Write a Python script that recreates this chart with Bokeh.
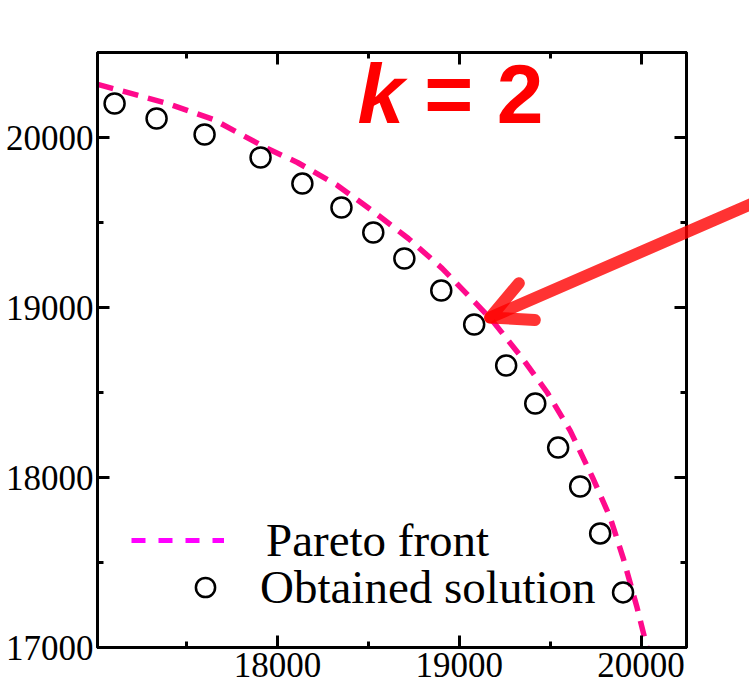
from bokeh.plotting import figure
from bokeh.models import (Range1d, LinearAxis, SingleIntervalTicker, Legend, LegendItem,
                          Arrow, OpenHead, Label, CustomJSTickFormatter, GridBox)
from bokeh.embed import file_html
from bokeh.resources import INLINE

# Pareto front (dashed curve)
front_x = [17011, 17154, 17396, 17648, 17945, 18110, 18330, 18527, 18720, 18907,
           19088, 19181, 19335, 19484, 19610, 19736, 19830, 19901, 19978, 20033]
front_y = [20312, 20271, 20200, 20106, 19935, 19853, 19718, 19565, 19406, 19229,
           19029, 18924, 18718, 18500, 18276, 17994, 17765, 17529, 17235, 17000]

# Obtained solutions (open circles)
sol_x = [17104, 17335, 17599, 17907, 18137, 18352, 18527, 18698, 18901, 19082,
         19258, 19418, 19544, 19665, 19775, 19901]
sol_y = [20200, 20112, 20018, 19882, 19729, 19588, 19441, 19288, 19100, 18900,
         18659, 18435, 18176, 17947, 17671, 17324]

# arrow annotation (points at the front), data coordinates
arrow_x = [20630, 19170]
arrow_y = [19620, 18941]

# title annotation anchors (data coordinates)
title_k = (18440, 20258)
title_rest = (18808, 20258)

SERIF = "Liberation Serif"
W, H = 749, 690
BL, BT, BR, BB = 97, 52, 63, 43
X0, X1 = 17010, 20250
Y0, Y1 = 17000, 20500

p = figure(width=W, height=H, x_range=Range1d(X0, X1), y_range=Range1d(Y0, Y1),
           output_backend="svg", toolbar_location=None, frame_align=False,
           min_border_left=BL, min_border_top=BT, min_border_right=BR, min_border_bottom=BB)
p.grid.visible = False
p.outline_line_color = "black"
p.outline_line_width = 3
p.background_fill_color = None
p.border_fill_color = None

p.add_layout(LinearAxis(), "above")
p.add_layout(LinearAxis(), "right")

for ax in p.axis:
    ax.ticker = SingleIntervalTicker(interval=1000, num_minor_ticks=2)
    ax.axis_line_width = 3
    ax.axis_line_color = "black"
    ax.major_tick_line_width = 3
    ax.minor_tick_line_width = 3
    ax.major_tick_in = 12
    ax.major_tick_out = 0
    ax.minor_tick_in = 6
    ax.minor_tick_out = 0
    ax.major_label_text_font = SERIF
    ax.major_label_text_font_size = "35px"
    ax.major_label_text_color = "black"

for ax in p.above + p.right:
    ax.formatter = CustomJSTickFormatter(code="return ''")
    ax.major_label_text_font_size = "1px"
    ax.major_label_standoff = 0

p.xaxis[0].major_label_standoff = 3
p.yaxis[0].major_label_standoff = 4

front = p.line(front_x, front_y, line_color="#ff0a8c", line_width=5.5, line_dash="16 10")
sols = p.scatter(sol_x, sol_y, marker="circle", size=20, fill_color=None,
                 line_color="black", line_width=2.5)

# legend-only sample of the front (magenta in the legend)
leg_line = p.line(front_x, front_y, line_color="#ff00ff", line_width=5, line_dash="14 13",
                  visible=False)

leg_style = dict(label_text_font=SERIF, label_text_font_size="47px", label_text_color="black",
                 padding=0, margin=0, border_line_alpha=0, background_fill_alpha=0, spacing=0)
leg1 = Legend(items=[LegendItem(label="Pareto front", renderers=[leg_line])],
              location=(34, 80), glyph_width=93, glyph_height=20, label_standoff=42, **leg_style)
leg2 = Legend(items=[LegendItem(label="Obtained solution", renderers=[sols])],
              location=(84, 33), glyph_width=48, glyph_height=48, label_standoff=31, **leg_style)
p.add_layout(leg1)
p.add_layout(leg2)

p.add_layout(Label(x=title_k[0], y=title_k[1], text="k",
                   text_font="Liberation Sans", text_font_style="bold italic",
                   text_font_size="84px", text_color="red", text_baseline="alphabetic"))
p.add_layout(Label(x=title_rest[0], y=title_rest[1], text="= 2",
                   text_font="Liberation Sans", text_font_style="bold",
                   text_font_size="84px", text_color="red", text_baseline="alphabetic"))

# transparent overlay covering the whole canvas, same data mapping, so the arrow
# can run past the plot frame
fw, fh = W - BL - BR, H - BT - BB
ux, uy = (X1 - X0) / fw, (Y1 - Y0) / fh
p2 = figure(width=W, height=H,
            x_range=Range1d(X0 - BL * ux, X1 + BR * ux),
            y_range=Range1d(Y0 - BB * uy, Y1 + BT * uy),
            output_backend="svg", toolbar_location=None, frame_align=False,
            min_border=0, min_border_left=0, min_border_right=0,
            min_border_top=0, min_border_bottom=0,
            x_axis_location=None, y_axis_location=None,
            background_fill_color=None, border_fill_color=None, outline_line_color=None)
p2.grid.visible = False
p2.line(arrow_x, arrow_y, line_color="red", line_alpha=0.8, line_width=12, line_cap="round")
p2.add_layout(Arrow(end=OpenHead(size=40, line_color="red", line_alpha=0.8, line_width=12,
                                 line_cap="round", line_join="round"),
                    x_start=arrow_x[0], y_start=arrow_y[0],
                    x_end=arrow_x[1], y_end=arrow_y[1],
                    line_alpha=0, line_width=12))

layout = GridBox(children=[(p, 0, 0), (p2, 0, 0)])

open("out.html", "w").write(file_html(layout, INLINE))
